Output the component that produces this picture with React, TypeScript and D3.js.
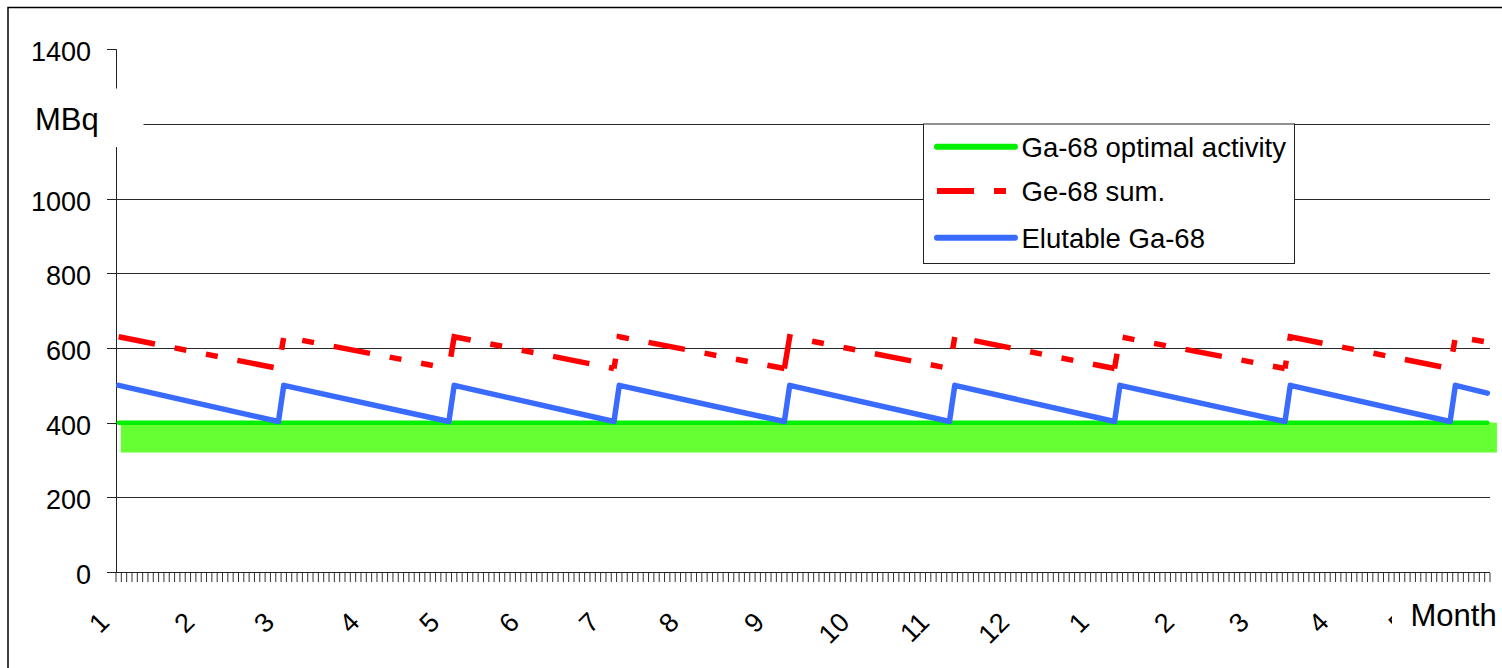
import React from 'react';
import * as d3 from 'd3';

// ---------- data ----------
const categoryCount = 258; // 2-day steps along the month axis
const monthLabels = ['1', '2', '3', '4', '5', '6', '7', '8', '9', '10', '11', '12', '1', '2', '3', '4', '5'];
const monthLabelIdx = [0, 16, 31, 47, 62, 77, 92, 107, 123, 139, 154, 169, 184, 200, 214, 229, 244];

const yTickValues = [0, 200, 400, 600, 800, 1000, 1200, 1400];
const yLabelValues = [0, 200, 400, 600, 800, 1000, 1400]; // 1200 is hidden under the axis title
const gridValues = [200, 400, 600, 800, 1000, 1200];

// sawtooth cycles (category index of first / last point of each cycle)
const cycleStart = [0, 31, 63, 94, 126, 157, 188, 220, 251];
const cycleEnd = [30, 62, 93, 125, 156, 187, 219, 250, 257];
const elutableAtStart = [500, 500, 500, 500, 500, 500, 500, 500, 500];
const elutableAtEnd = [403, 403, 403, 403, 403, 403, 403, 403, 479];
const geSumAtStart = [630, 630, 630, 630, 630, 630, 630, 630, 630];
const geSumAtEnd = [545, 545, 545, 545, 545, 545, 545, 545, 616];

const optimalActivity = 400;
const optimalRangeLow = 320;
const optimalBandFrom = 0.9; // category units
const optimalBandTo = 259.3;

const legendLabels = ['Ga-68 optimal activity', 'Ge-68 sum.', 'Elutable Ga-68'];

// ---------- styles ----------
const FONT = '"Liberation Sans", Arial, Helvetica, sans-serif';
const GREEN = '#00F000';
const BAND = '#66FF33';
const RED = '#FF0000';
const BLUE = '#3A6BFF';
const DASH = '37 20 12 20 12 20';
// dash phase of the Ge-68 line at the start of each cycle piece (matches the reference pattern)
const redDashPhase = [0, 38, 109, 59, 2, 69, 22, 93, 40];

export default function App() {
  const W = 1502;
  const H = 668;
  const x = d3.scaleLinear().domain([0, categoryCount]).range([116, 1490]);
  const y = d3.scaleLinear().domain([0, 1400]).range([572, 49.3]);
  const cx = (i: number) => x(i + 0.5);

  type P = [number, number];
  const bluePts: P[] = cycleStart.flatMap((s, k) => [[s, elutableAtStart[k]] as P, [cycleEnd[k], elutableAtEnd[k]] as P]);
  const redPieces: P[][] = cycleStart.map((s, k) => {
    const body: P[] = [[s, geSumAtStart[k]], [cycleEnd[k], geSumAtEnd[k]]];
    return k === 0 ? body : [[cycleEnd[k - 1], geSumAtEnd[k - 1]] as P, ...body];
  });
  const greenPts: P[] = [[0, optimalActivity], [categoryCount - 1, optimalActivity]];
  const line = d3.line<P>().x(d => cx(d[0])).y(d => y(d[1]));

  const ticks = d3.range(categoryCount + 1);

  const lg = { x0: 923.5, y0: 124, x1: 1294.5, y1: 263.5, lineX0: 937, lineX1: 1015, textX: 1021.5, rows: [146.7, 191, 237.7] };

  return (
    <svg width={W} height={H} style={{ position: 'absolute', left: 0, top: 0 }} fontFamily={FONT}>
      <rect x={0} y={0} width={W} height={H} fill="#fff" />
      <rect x={8} y={7.5} width={W + 20} height={H + 20} fill="none" stroke="#000" strokeWidth={1.5} />

      {/* gridlines */}
      {gridValues.map(v => (
        <line key={v} x1={x(0)} x2={x(categoryCount)} y1={Math.round(y(v)) + 0.5} y2={Math.round(y(v)) + 0.5} stroke="#2a2a2a" strokeWidth={1} />
      ))}

      {/* optimal band */}
      <rect x={x(optimalBandFrom)} y={y(optimalActivity)} width={x(optimalBandTo) - x(optimalBandFrom)} height={y(optimalRangeLow) - y(optimalActivity)} fill={BAND} />

      {/* axes */}
      <line x1={116.5} x2={116.5} y1={y(1400)} y2={y(0)} stroke="#222" strokeWidth={1} />
      <line x1={x(0)} x2={x(categoryCount)} y1={572.5} y2={572.5} stroke="#222" strokeWidth={1} />
      {yTickValues.map(v => (
        <line key={v} x1={107} x2={116.5} y1={Math.round(y(v)) + 0.5} y2={Math.round(y(v)) + 0.5} stroke="#222" strokeWidth={1} />
      ))}
      {ticks.map(t => (
        <line key={t} x1={x(t)} x2={x(t)} y1={573} y2={582} stroke="#333" strokeWidth={1} />
      ))}
      {yLabelValues.map(v => (
        <text key={v} x={91} y={y(v) + 12} textAnchor="end" fontSize={27} fill="#000">{v}</text>
      ))}
      {monthLabels.map((m, k) => (
        <text key={k} transform={`translate(${cx(monthLabelIdx[k]) - 14.7},617) rotate(-45)`} textAnchor="end" dy="0.36em" fontSize={27} fill="#000">{m}</text>
      ))}

      {/* series */}
      <path d={line(greenPts) || ''} fill="none" stroke={GREEN} strokeWidth={4.5} strokeLinecap="round" />
      <path d={line(bluePts) || ''} fill="none" stroke={BLUE} strokeWidth={5.5} strokeLinecap="round" strokeLinejoin="round" />
      {redPieces.map((pts, k) => (
        <path key={k} d={line(pts) || ''} fill="none" stroke={RED} strokeWidth={5.5} strokeDasharray={DASH} strokeDashoffset={redDashPhase[k]} strokeLinecap="butt" strokeLinejoin="miter" />
      ))}

      {/* axis titles with white boxes */}
      <rect x={20} y={88.5} width={123.5} height={58.5} fill="#fff" />
      <text x={35} y={130} fontSize={31} fill="#000">MBq</text>
      <rect x={1392} y={590} width={110} height={55} fill="#fff" />
      <text x={1410.5} y={626} fontSize={31} fill="#000">Month</text>

      {/* legend */}
      <rect x={lg.x0} y={lg.y0} width={lg.x1 - lg.x0} height={lg.y1 - lg.y0} fill="#fff" stroke="#222" strokeWidth={1} />
      <line x1={lg.lineX0} x2={lg.lineX1} y1={lg.rows[0]} y2={lg.rows[0]} stroke={GREEN} strokeWidth={6} strokeLinecap="round" />
      <line x1={lg.lineX0} x2={lg.lineX1} y1={lg.rows[1]} y2={lg.rows[1]} stroke={RED} strokeWidth={6} strokeDasharray={DASH} />
      <line x1={lg.lineX0} x2={lg.lineX1} y1={lg.rows[2]} y2={lg.rows[2]} stroke={BLUE} strokeWidth={6} strokeLinecap="round" />
      {legendLabels.map((l, k) => (
        <text key={l} x={lg.textX} y={lg.rows[k] + 10} fontSize={27.5} fill="#000">{l}</text>
      ))}
    </svg>
  );
}
